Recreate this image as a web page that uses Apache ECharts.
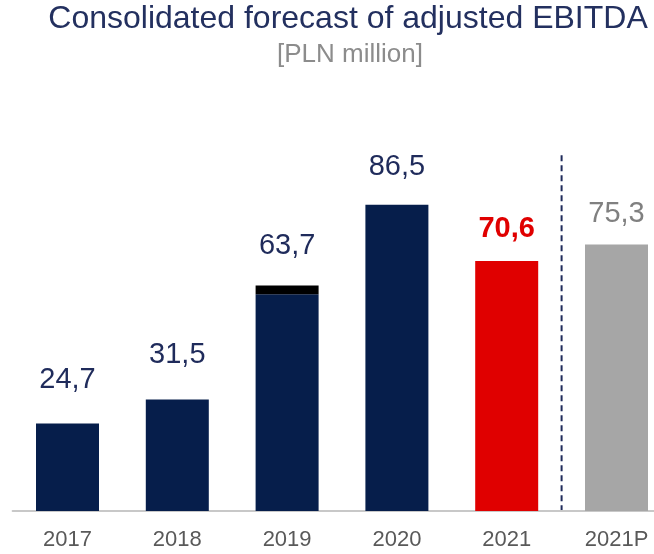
<!DOCTYPE html>
<html>
<head>
<meta charset="utf-8">
<script src="https://cdn.jsdelivr.net/npm/echarts@6/dist/echarts.min.js"></script>
<style>
  html, body { margin: 0; padding: 0; background: #fff; }
  #chart { width: 654px; height: 554px; }
</style>
</head>
<body>
<div id="chart"></div>
<script>
// Adjusted EBITDA by year, PLN million
const years = ['2017', '2018', '2019', '2020', '2021', '2021P'];
const ebitda = [24.7, 31.5, 63.7, 86.5, 70.6, 75.3];
// Part of the 2019 figure shown as a separate black segment on top
const topSegment = [0, 0, 2.5, 0, 0, 0];

const navy = '#061e4b';
const barColors = [navy, navy, navy, navy, '#e00000', '#a6a6a6'];
const labelColors = ['#1f2b5b', '#1f2b5b', '#1f2b5b', '#1f2b5b', '#e00000', '#808080'];
const labelBold = [false, false, false, false, true, false];
const labelGap = [29, 30, 25, 23, 18, 16];

const fmt = v => v.toFixed(1).replace('.', ',');

const baseData = ebitda.map((v, i) => ({
  value: +(v - topSegment[i]).toFixed(1),
  itemStyle: { color: barColors[i] }
}));
const topData = topSegment.map((v, i) => ({
  value: v,
  label: {
    show: true,
    position: 'top',
    distance: labelGap[i],
    formatter: fmt(ebitda[i]),
    color: labelColors[i],
    fontWeight: labelBold[i] ? 'bold' : 'normal'
  }
}));

const chart = echarts.init(document.getElementById('chart'));
chart.setOption({
  animation: false,
  grid: {
    left: 12.6, width: 658.8, top: 157, bottom: 43,
    containLabel: false, outerBoundsMode: 'none'
  },
  xAxis: {
    type: 'category',
    data: years,
    axisLine: { lineStyle: { color: '#c8c8c8', width: 2 } },
    axisTick: { show: false },
    axisLabel: { color: '#595959', fontSize: 22, fontFamily: 'Liberation Sans, Arial, sans-serif', margin: 18 }
  },
  yAxis: { type: 'value', min: 0, max: 100, show: false, splitLine: { show: false } },
  series: [
    {
      type: 'bar', stack: 'total', barWidth: 63, data: baseData
    },
    {
      type: 'bar', stack: 'total', barWidth: 63, data: topData,
      itemStyle: { color: '#000' },
      label: { fontSize: 29, fontFamily: 'Liberation Sans, Arial, sans-serif' }
    }
  ]
});

// Dashed divider between actual years and the forecast
const xa = chart.convertToPixel({ xAxisIndex: 0 }, 4);
const xb = chart.convertToPixel({ xAxisIndex: 0 }, 5);
const yTop = chart.convertToPixel({ yAxisIndex: 0 }, 100.5);
const yBase = chart.convertToPixel({ yAxisIndex: 0 }, 0);
const xMid = (xa + xb) / 2;

chart.setOption({
  graphic: [
    {
      type: 'line',
      shape: { x1: xMid, y1: yTop, x2: xMid, y2: yBase },
      style: { stroke: '#1f2b5b', lineWidth: 2, lineDash: [6, 4] }
    },
    {
      type: 'text', x: 348, y: 19,
      style: {
        text: 'Consolidated forecast of adjusted EBITDA',
        fill: '#23305f', font: '32px Liberation Sans, Arial, sans-serif',
        textAlign: 'center', textVerticalAlign: 'middle'
      }
    },
    {
      type: 'text', x: 350, y: 55,
      style: {
        text: '[PLN million]',
        fill: '#8c8c8c', font: '26px Liberation Sans, Arial, sans-serif',
        textAlign: 'center', textVerticalAlign: 'middle'
      }
    }
  ]
});
</script>
</body>
</html>
